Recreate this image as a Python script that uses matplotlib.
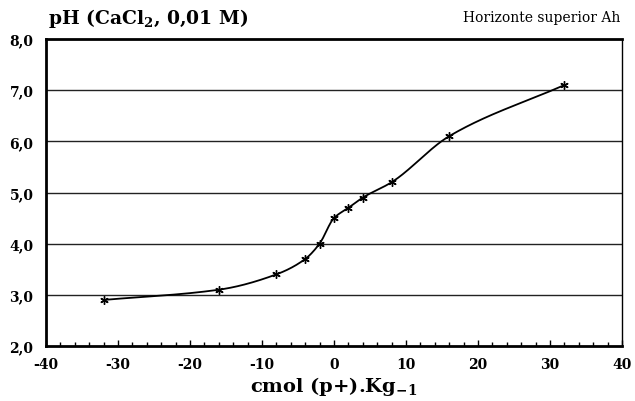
import numpy as np
import matplotlib
matplotlib.use('Agg')
import matplotlib.pyplot as plt

plt.rcParams['font.family'] = ['DejaVu Serif']
plt.rcParams['mathtext.fontset'] = 'custom'
plt.rcParams['mathtext.rm'] = 'DejaVu Serif:bold'
plt.rcParams['mathtext.default'] = 'rm'

# data
cmol = [-32, -16, -8, -4, -2, 0, 2, 4, 8, 16, 32]
ph = [2.9, 3.1, 3.4, 3.7, 4.0, 4.5, 4.7, 4.9, 5.2, 6.1, 7.1]
xticks = [-40, -30, -20, -10, 0, 10, 20, 30, 40]
yticks = [2.0, 3.0, 4.0, 5.0, 6.0, 7.0, 8.0]


def pchip(x, y, xs):
    # monotone cubic for a smoothed line (Excel-like)
    x = np.asarray(x, float); y = np.asarray(y, float)
    h = np.diff(x); d = np.diff(y) / h
    m = np.zeros_like(y)
    for k in range(1, len(x) - 1):
        if d[k-1] * d[k] > 0:
            w1 = 2*h[k] + h[k-1]; w2 = h[k] + 2*h[k-1]
            m[k] = (w1 + w2) / (w1/d[k-1] + w2/d[k])
    m[0] = d[0]; m[-1] = d[-1]
    i = np.clip(np.searchsorted(x, xs) - 1, 0, len(h) - 1)
    t = (xs - x[i]) / h[i]
    h00 = 2*t**3 - 3*t**2 + 1; h10 = t**3 - 2*t**2 + t
    h01 = -2*t**3 + 3*t**2; h11 = t**3 - t**2
    return h00*y[i] + h10*h[i]*m[i] + h01*y[i+1] + h11*h[i]*m[i+1]


fig = plt.figure(figsize=(6.35, 4.02), dpi=100)
ax = fig.add_axes([0.0724, 0.1368, 0.907, 0.7637])

for yv in yticks[1:-1]:
    ax.axhline(yv, color='#222222', lw=1.0, zorder=1)

xs = np.linspace(cmol[0], cmol[-1], 400)
ax.plot(xs, pchip(cmol, ph, xs), color='black', lw=1.3, zorder=3)
ax.plot(cmol, ph, ls='none', marker=(6, 2, 0), ms=6, mew=1.0,
        color='black', zorder=4)

ax.set_xlim(-40, 40)
ax.set_ylim(2, 8)
ax.set_xticks(xticks)
ax.set_xticklabels([str(v) for v in xticks])
ax.set_yticks(yticks)
ax.set_yticklabels([f'{v:.1f}'.replace('.', ',') for v in yticks])
ax.set_xticks(np.arange(-38, 40, 2), minor=True)
ax.tick_params(axis='x', which='major', direction='in', length=4, width=1,
               labelsize=10, pad=8)
ax.tick_params(axis='x', which='minor', direction='in', length=3, width=1)
ax.tick_params(axis='y', which='both', length=0, labelsize=10, pad=9)
for lbl in ax.get_xticklabels() + ax.get_yticklabels():
    lbl.set_fontweight('bold')

for side in ['left', 'bottom', 'top']:
    ax.spines[side].set_linewidth(2.0)
ax.spines['right'].set_linewidth(1.0)

fig.text(0.076, 0.953, r'pH (CaCl$_2$, 0,01 M)', fontsize=13.5,
         fontweight='bold', ha='left', va='center')
fig.text(0.977, 0.955, 'Horizonte superior Ah', fontsize=10,
         ha='right', va='center')
fig.text(0.526, 0.025, r'cmol (p+).Kg$_{-1}$', fontsize=14,
         fontweight='bold', ha='center', va='baseline')

fig.savefig('out.png', dpi=100, facecolor='white')
